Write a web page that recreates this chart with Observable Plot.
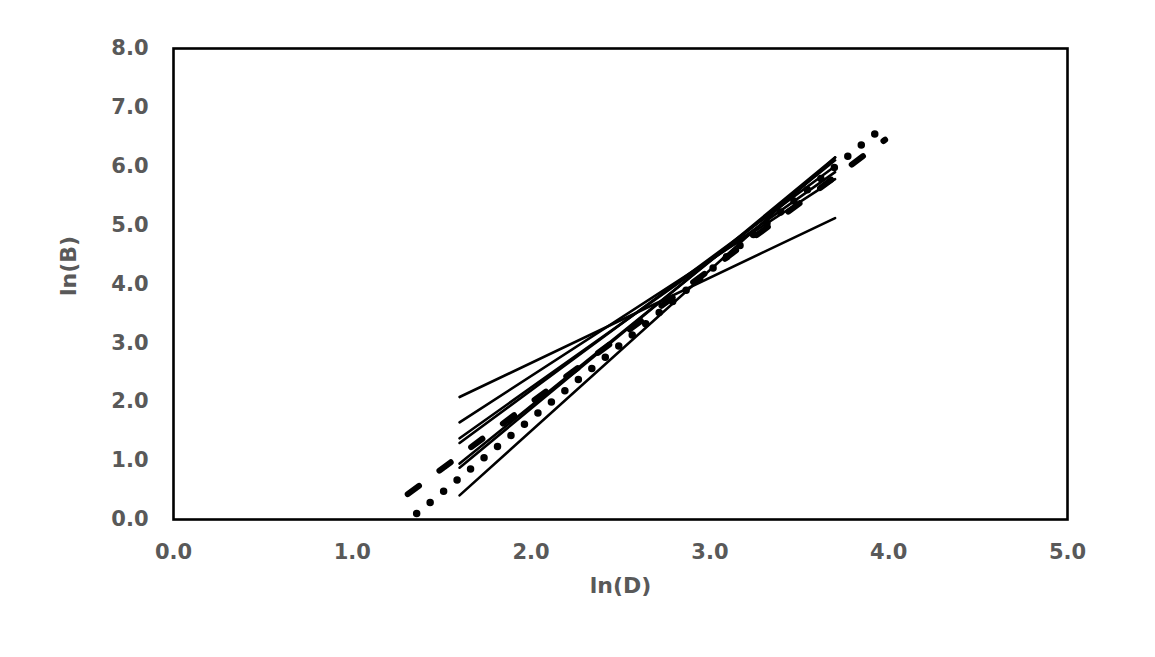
<!DOCTYPE html>
<html>
<head>
<meta charset="utf-8">
<script src="https://cdn.jsdelivr.net/npm/d3@7"></script>
<script src="https://cdn.jsdelivr.net/npm/@observablehq/plot@0.6"></script>
<style>
  html, body { margin: 0; padding: 0; background: #fff; }
  #chart svg { display: block; }
</style>
</head>
<body>
<div id="chart"></div>
<script>
// Tick values
const xTicks = [0, 1, 2, 3, 4, 5];
const yTicks = [0, 1, 2, 3, 4, 5, 6, 7, 8];

// Solid fitted lines: ln(D) range and ln(B) at start / end
const fitX = [1.6, 3.7];
const fitStartB = [2.08, 1.65, 1.38, 1.30, 0.95, 0.88, 0.41];
const fitEndB   = [5.12, 5.78, 5.90, 6.00, 6.10, 6.15, 6.15];

// Dotted line
const dottedX = [1.36, 3.95];
const dottedY = [0.10, 6.62];

// Dashed line
const dashedX = [1.31, 3.98];
const dashedY = [0.43, 6.45];

const solidRows = [];
fitStartB.forEach((b0, i) => {
  solidRows.push({series: i, lnD: fitX[0], lnB: b0});
  solidRows.push({series: i, lnD: fitX[1], lnB: fitEndB[i]});
});
const dottedRows = dottedX.map((d, i) => ({lnD: d, lnB: dottedY[i]}));
const dashedRows = dashedX.map((d, i) => ({lnD: d, lnB: dashedY[i]}));

const font = "'DejaVu Sans', Verdana, sans-serif";

const chart = Plot.plot({
  width: 1155,
  height: 657,
  marginLeft: 173,
  marginRight: 88,
  marginTop: 48,
  marginBottom: 138,
  style: {fontFamily: font, background: "#fff"},
  x: {domain: [0, 5]},
  y: {domain: [0, 8]},
  marks: [
    Plot.axisX({ticks: xTicks, tickFormat: d3.format(".1f"), tickSize: 0, tickPadding: 25,
      label: null, fontSize: 21, fontWeight: "bold", fill: "#595959"}),
    Plot.axisY({ticks: yTicks, tickFormat: d3.format(".1f"), tickSize: 0, tickPadding: 25,
      label: null, fontSize: 21, fontWeight: "bold", fill: "#595959"}),
    Plot.line(solidRows, {x: "lnD", y: "lnB", z: "series", stroke: "black", strokeWidth: 2.6}),
    Plot.line(dashedRows, {x: "lnD", y: "lnB", stroke: "black", strokeWidth: 6,
      strokeDasharray: "14,25.5", strokeLinecap: "round"}),
    Plot.line(dottedRows, {x: "lnD", y: "lnB", stroke: "black", strokeWidth: 7.5,
      strokeDasharray: "0,17.5", strokeLinecap: "round"}),
    Plot.frame({stroke: "black", strokeWidth: 2.6}),
    Plot.text(["ln(D)"], {frameAnchor: "bottom", dy: 73, fontSize: 22, fontWeight: "bold", fill: "#595959"}),
    Plot.text(["ln(B)"], {frameAnchor: "left", rotate: -90, dx: -105, dy: 12, fontSize: 22, fontWeight: "bold", fill: "#595959"})
  ]
});
document.getElementById("chart").appendChild(chart);
</script>
</body>
</html>
